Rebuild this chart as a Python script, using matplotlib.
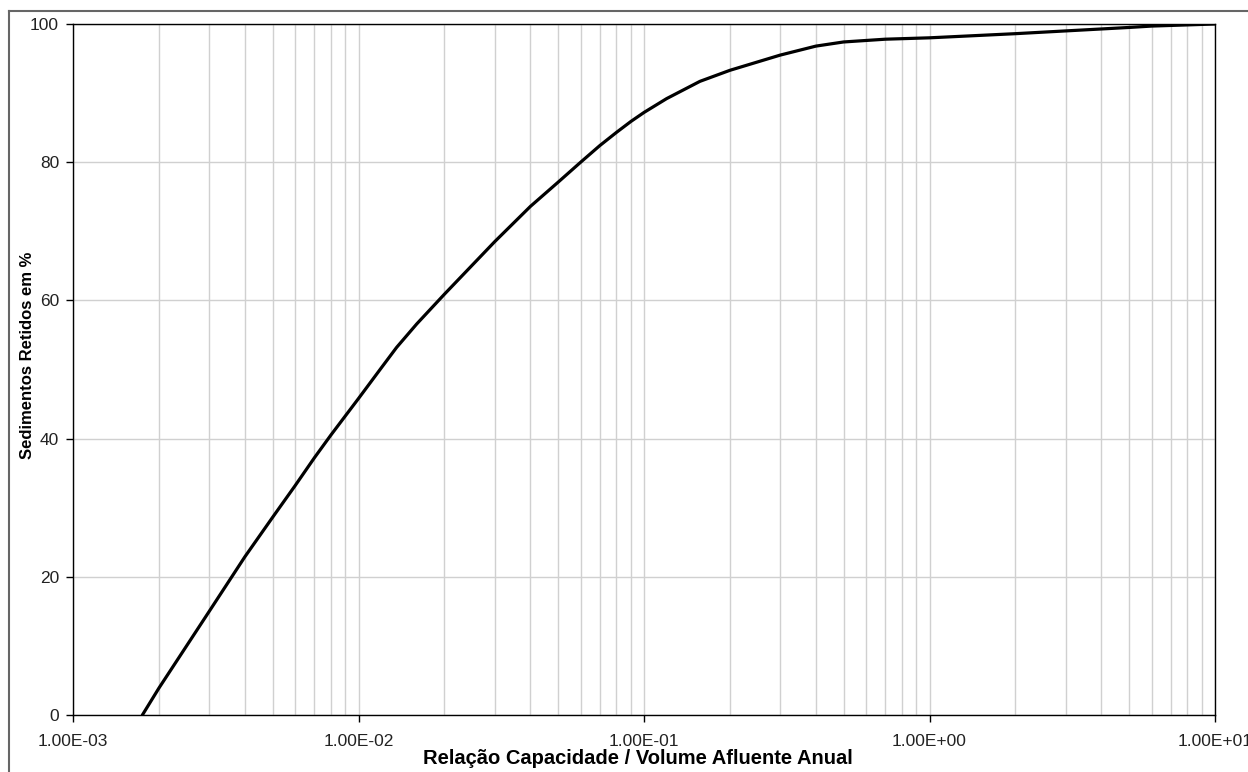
import matplotlib.pyplot as plt
from matplotlib import ticker
from matplotlib.lines import Line2D

# values
ratio = [1.75e-3, 2e-3, 3e-3, 4e-3, 5e-3, 6e-3, 7e-3, 8e-3, 9e-3, 1e-2,
         1.2e-2, 1.36e-2, 1.6e-2, 2e-2, 3e-2, 4e-2, 5e-2, 6e-2, 7e-2, 8e-2,
         9e-2, 0.1, 0.12, 0.157, 0.2, 0.3, 0.4, 0.5, 0.7, 1.0, 2.0, 3.0,
         5.0, 6.0, 10.0]
retained = [0.0, 3.9, 15.0, 22.9, 28.6, 33.2, 37.2, 40.5, 43.3, 45.8,
            50.2, 53.2, 56.6, 60.9, 68.5, 73.6, 77.1, 80.0, 82.4, 84.3,
            85.9, 87.2, 89.2, 91.7, 93.3, 95.5, 96.8, 97.4, 97.8, 98.0, 98.6, 99.0,
            99.5, 99.7, 100.0]

x_ticks = [1e-3, 1e-2, 1e-1, 1e0, 1e1]
y_ticks = [0, 20, 40, 60, 80, 100]

plt.rcParams["font.family"] = ["Liberation Sans", "DejaVu Sans"]

fig = plt.figure(figsize=(12.48, 7.72), dpi=100)
ax = fig.add_axes([73 / 1248, 1 - 715 / 772, (1215 - 73) / 1248, (715 - 24) / 772])

ax.plot(ratio, retained, color="black", linewidth=2.3, solid_capstyle="round",
        solid_joinstyle="round", zorder=3)

ax.set_xscale("log")
ax.set_xlim(1e-3, 1e1)
ax.set_ylim(0, 100)
ax.set_xticks(x_ticks)
ax.set_yticks(y_ticks)
ax.xaxis.set_major_formatter(ticker.FuncFormatter(lambda v, p: "%.2E" % v))
ax.xaxis.set_minor_locator(ticker.LogLocator(base=10, subs=range(2, 10), numticks=20))
ax.xaxis.set_minor_formatter(ticker.NullFormatter())

ax.grid(True, which="major", color="#d0d0d0", linewidth=1.0)
ax.grid(True, which="minor", axis="x", color="#d0d0d0", linewidth=1.0)
ax.set_axisbelow(True)

ax.tick_params(which="major", direction="out", length=5, width=1, color="black",
               labelsize=12.5, labelcolor="#222222", pad=5)
ax.tick_params(axis="x", which="major", pad=9)
ax.tick_params(which="minor", length=0)
for s in ax.spines.values():
    s.set_color("black")
    s.set_linewidth(1.0)

ax.set_xlabel("Relação Capacidade / Volume Afluente Anual", fontsize=14.5,
              fontweight="bold", labelpad=0)
ax.xaxis.set_label_coords(0.495, -0.049)
ax.xaxis.label.set_va("top")
ax.set_ylabel("Sedimentos Retidos em %", fontsize=12, fontweight="bold")
ax.yaxis.set_label_coords(-0.033, 0.52)

# outer grey frame (left and top edges of the original chart area)
fig.add_artist(Line2D([9 / 1248, 9 / 1248], [-0.05, 1 - 10.5 / 772], color="#666666",
                      linewidth=1.5, transform=fig.transFigure))
fig.add_artist(Line2D([9 / 1248, 1.05], [1 - 10.5 / 772, 1 - 10.5 / 772], color="#666666",
                      linewidth=1.5, transform=fig.transFigure))

fig.savefig("out.png", dpi=100)
